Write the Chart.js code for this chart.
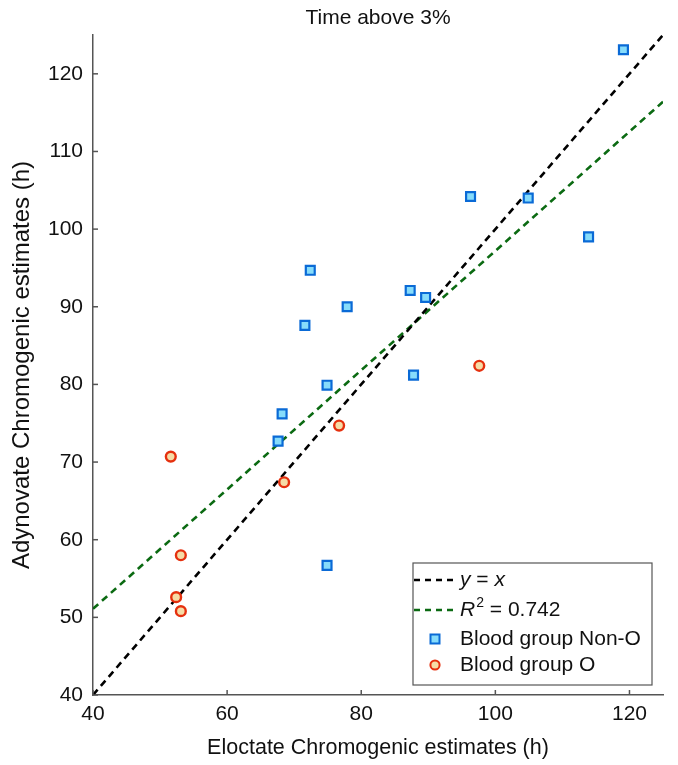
<!DOCTYPE html>
<html>
<head>
<meta charset="utf-8">
<script src="https://cdn.jsdelivr.net/npm/chart.js@4.4.0/dist/chart.umd.min.js"></script>
<style>
  html, body { margin: 0; padding: 0; background: #fff; }
  #wrap { width: 678px; height: 765px; }
</style>
</head>
<body>
<div id="wrap"><canvas id="chart" width="678" height="765"></canvas></div>
<script>
// Blood group Non-O (Eloctate, Adynovate)
const nonOX = [119.1, 96.3, 104.9, 113.9, 72.4, 77.9, 87.3, 89.6, 71.6, 74.9, 87.8, 68.2, 67.6, 74.9];
const nonOY = [123.1, 104.2, 104.0, 99.0, 94.7, 90.0, 92.1, 91.2, 87.6, 79.9, 81.2, 76.2, 72.7, 56.7];
// Blood group O
const groupOX = [97.6, 76.7, 51.6, 68.5, 53.1, 52.4, 53.1];
const groupOY = [82.4, 74.7, 70.7, 67.4, 58.0, 52.6, 50.8];
// reference lines (endpoints)
const identityX = [40, 125];
const identityY = [40, 125];
const fitX = [40, 125];
const fitY = [51.1, 116.4];
const xTicks = [40, 60, 80, 100, 120];
const yTicks = [40, 50, 60, 70, 80, 90, 100, 110, 120];

const FONT = '"Liberation Sans", Arial, Helvetica, sans-serif';
const toPts = (xs, ys) => xs.map((x, i) => ({ x: x, y: ys[i] }));

// draws title, inward tick marks and the boxed legend
const decor = {
  id: 'decor',
  afterDraw(chart) {
    const ctx = chart.ctx;
    const a = chart.chartArea;
    const xs = chart.scales.x, ys = chart.scales.y;
    ctx.save();
    ctx.strokeStyle = '#555';
    ctx.lineWidth = 1.5;
    xTicks.forEach(v => {
      const p = xs.getPixelForValue(v);
      ctx.beginPath(); ctx.moveTo(p, a.bottom); ctx.lineTo(p, a.bottom - 5); ctx.stroke();
    });
    yTicks.forEach(v => {
      const p = ys.getPixelForValue(v);
      ctx.beginPath(); ctx.moveTo(a.left, p); ctx.lineTo(a.left + 5, p); ctx.stroke();
    });

    // title
    ctx.fillStyle = '#111';
    ctx.font = '21px ' + FONT;
    ctx.textAlign = 'center';
    ctx.textBaseline = 'middle';
    ctx.fillText('Time above 3%', (a.left + a.right) / 2, 18);

    // legend box
    const bx = 413, by = 563, bw = 239, bh = 122;
    ctx.fillStyle = '#fff';
    ctx.fillRect(bx, by, bw, bh);
    ctx.strokeStyle = '#555';
    ctx.lineWidth = 1.2;
    ctx.strokeRect(bx, by, bw, bh);

    const rowY = [580, 610, 639, 665];
    const tx = 460;
    ctx.textAlign = 'left';
    ctx.textBaseline = 'middle';
    ctx.lineWidth = 2.5;

    ctx.setLineDash([6, 5]);
    ctx.strokeStyle = '#000';
    ctx.beginPath(); ctx.moveTo(414, rowY[0]); ctx.lineTo(453, rowY[0]); ctx.stroke();
    ctx.strokeStyle = '#0b6a12';
    ctx.beginPath(); ctx.moveTo(414, rowY[1]); ctx.lineTo(453, rowY[1]); ctx.stroke();
    ctx.setLineDash([]);

    // y = x
    ctx.fillStyle = '#111';
    ctx.font = 'italic 21px ' + FONT;
    ctx.fillText('y', tx, rowY[0]);
    let w = ctx.measureText('y').width;
    ctx.font = '21px ' + FONT;
    ctx.fillText(' = ', tx + w, rowY[0]);
    w += ctx.measureText(' = ').width;
    ctx.font = 'italic 21px ' + FONT;
    ctx.fillText('x', tx + w, rowY[0]);

    // R^2 = 0.742
    ctx.font = 'italic 21px ' + FONT;
    ctx.fillText('R', tx, rowY[1]);
    w = ctx.measureText('R').width;
    ctx.font = '14px ' + FONT;
    ctx.fillText('2', tx + w + 1, rowY[1] - 7);
    w += ctx.measureText('2').width + 1;
    ctx.font = '21px ' + FONT;
    ctx.fillText(' = 0.742', tx + w, rowY[1]);

    // markers
    ctx.lineWidth = 2;
    ctx.fillStyle = '#86dcfb';
    ctx.strokeStyle = '#0a6ad6';
    ctx.fillRect(430.5, rowY[2] - 4.5, 9, 9);
    ctx.strokeRect(430.5, rowY[2] - 4.5, 9, 9);
    ctx.fillStyle = '#f6dca6';
    ctx.strokeStyle = '#e5300e';
    ctx.beginPath(); ctx.arc(435, rowY[3], 4.6, 0, Math.PI * 2); ctx.fill(); ctx.stroke();

    ctx.fillStyle = '#111';
    ctx.font = '21px ' + FONT;
    ctx.fillText('Blood group Non-O', tx, rowY[2]);
    ctx.fillText('Blood group O', tx, rowY[3]);
    ctx.restore();
  }
};

new Chart(document.getElementById('chart'), {
  type: 'scatter',
  data: {
    datasets: [
      {
        label: 'Blood group Non-O',
        data: toPts(nonOX, nonOY),
        pointStyle: 'rect',
        pointRadius: 6.3,
        pointBorderWidth: 2.2,
        backgroundColor: '#86dcfb',
        borderColor: '#0a6ad6',
        order: 0
      },
      {
        label: 'Blood group O',
        data: toPts(groupOX, groupOY),
        pointStyle: 'circle',
        pointRadius: 4.9,
        pointBorderWidth: 2.4,
        backgroundColor: '#f6dca6',
        borderColor: '#e5300e',
        order: 0
      },
      {
        type: 'line',
        label: 'y = x',
        data: toPts(identityX, identityY),
        borderColor: '#000',
        borderWidth: 2.6,
        borderDash: [7, 5],
        pointRadius: 0,
        fill: false,
        order: 1
      },
      {
        type: 'line',
        label: 'R2 = 0.742',
        data: toPts(fitX, fitY),
        borderColor: '#0b6a12',
        borderWidth: 2.6,
        borderDash: [7, 5],
        pointRadius: 0,
        fill: false,
        order: 1
      }
    ]
  },
  options: {
    responsive: false,
    animation: false,
    layout: { padding: { top: 35, right: 15, left: 0, bottom: 0 } },
    plugins: {
      legend: { display: false },
      tooltip: { enabled: false }
    },
    scales: {
      x: {
        type: 'linear',
        min: 40, max: 125,
        afterBuildTicks: s => { s.ticks = xTicks.map(v => ({ value: v })); },
        afterFit: s => { s.height = 70; },
        grid: { display: false, drawTicks: false },
        border: { display: true, color: '#555', width: 1.5 },
        ticks: { color: '#111', font: { family: FONT, size: 21 }, padding: 7, maxRotation: 0 },
        title: {
          display: true,
          text: 'Eloctate Chromogenic estimates (h)',
          color: '#111',
          font: { family: FONT, size: 21.5 },
          padding: { top: 12 }
        }
      },
      y: {
        type: 'linear',
        min: 40, max: 125,
        afterBuildTicks: s => { s.ticks = yTicks.map(v => ({ value: v })); },
        afterFit: s => { s.width = 93; },
        grid: { display: false, drawTicks: false },
        border: { display: true, color: '#555', width: 1.5 },
        ticks: { color: '#111', font: { family: FONT, size: 21 }, padding: 10 },
        title: {
          display: true,
          text: 'Adynovate Chromogenic estimates (h)',
          color: '#111',
          font: { family: FONT, size: 24 },
          padding: { top: 8, bottom: 0 }
        }
      }
    }
  },
  plugins: [decor]
});
</script>
</body>
</html>
